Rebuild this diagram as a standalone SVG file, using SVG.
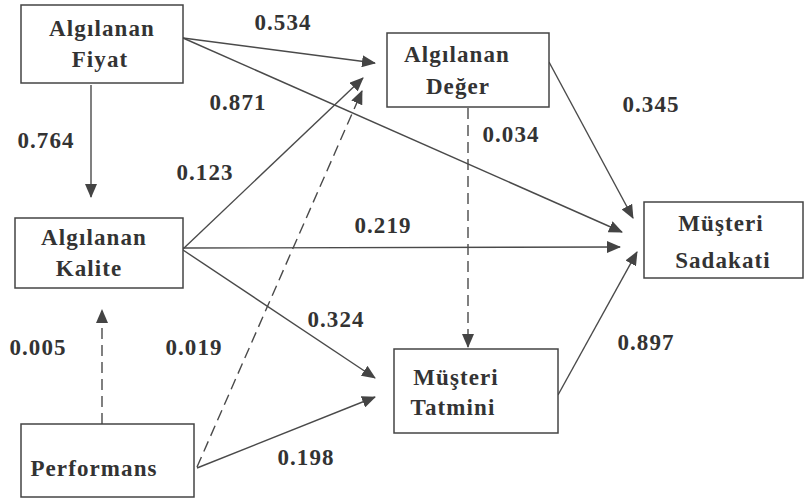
<svg xmlns="http://www.w3.org/2000/svg" width="805" height="499" viewBox="0 0 805 499">
<defs>
<marker id="ah" markerUnits="userSpaceOnUse" markerWidth="14" markerHeight="12" viewBox="0 0 14 12" refX="13" refY="6" orient="auto">
<path d="M0,0 L14,6 L0,12 Z" fill="#444"/>
</marker>
</defs>
<style>
.box{fill:#fff;stroke:#444;stroke-width:1.5}
.t{font-family:"Liberation Serif","Times New Roman",serif;font-weight:bold;font-size:23px;letter-spacing:1.1px;fill:#333;text-anchor:middle}
.c{stroke:#4a4a4a;stroke-width:1.4;fill:none;marker-end:url(#ah)}
.d{stroke-dasharray:11,6}
</style>
<rect width="805" height="499" fill="#fff"/>
<g id="connectors">
<line class="c" x1="183" y1="38" x2="375" y2="63"/>
<line class="c" x1="183" y1="38" x2="622" y2="232"/>
<line class="c" x1="91" y1="85" x2="91" y2="197"/>
<line class="c" x1="549" y1="62" x2="633" y2="218"/>
<line class="c d" x1="468" y1="108" x2="468" y2="347"/>
<line class="c" x1="183" y1="249" x2="363" y2="78"/>
<line class="c" x1="183" y1="248" x2="620" y2="247"/>
<line class="c" x1="183" y1="250" x2="375" y2="378"/>
<line class="c d" x1="197" y1="467" x2="362" y2="91"/>
<line class="c" x1="197" y1="468" x2="375" y2="397"/>
<line class="c d" x1="102" y1="424" x2="102" y2="310"/>
<line class="c" x1="558" y1="395" x2="637" y2="252"/>
</g>
<g id="labels">
<text class="t" x="283" y="30">0.534</text>
<text class="t" x="238" y="110">0.871</text>
<text class="t" x="46" y="148">0.764</text>
<text class="t" x="205" y="180">0.123</text>
<text class="t" x="383" y="233">0.219</text>
<text class="t" x="651" y="112">0.345</text>
<text class="t" x="511" y="142">0.034</text>
<text class="t" x="336" y="327">0.324</text>
<text class="t" x="38" y="355">0.005</text>
<text class="t" x="194" y="355">0.019</text>
<text class="t" x="306" y="465">0.198</text>
<text class="t" x="646" y="350">0.897</text>
</g>
<g id="fiyat">
<rect class="box" x="21" y="5" width="162" height="78"/>
<text class="t" x="102" y="36">Algılanan</text>
<text class="t" x="100" y="67">Fiyat</text>
</g>
<g id="deger">
<rect class="box" x="387" y="33" width="162" height="74"/>
<text class="t" x="457" y="62">Algılanan</text>
<text class="t" x="458" y="94">Değer</text>
</g>
<g id="kalite">
<rect class="box" x="15" y="218" width="168" height="70"/>
<text class="t" x="94" y="245">Algılanan</text>
<text class="t" x="89" y="276">Kalite</text>
</g>
<g id="sadakati">
<rect class="box" x="644" y="202" width="159" height="76"/>
<text class="t" x="721" y="231">Müşteri</text>
<text class="t" x="723" y="268">Sadakati</text>
</g>
<g id="tatmini">
<rect class="box" x="394" y="349" width="164" height="84"/>
<text class="t" x="456" y="385">Müşteri</text>
<text class="t" x="453" y="415">Tatmini</text>
</g>
<g id="performans">
<rect class="box" x="21" y="424" width="173" height="73"/>
<text class="t" x="94" y="476">Performans</text>
</g>
</svg>
